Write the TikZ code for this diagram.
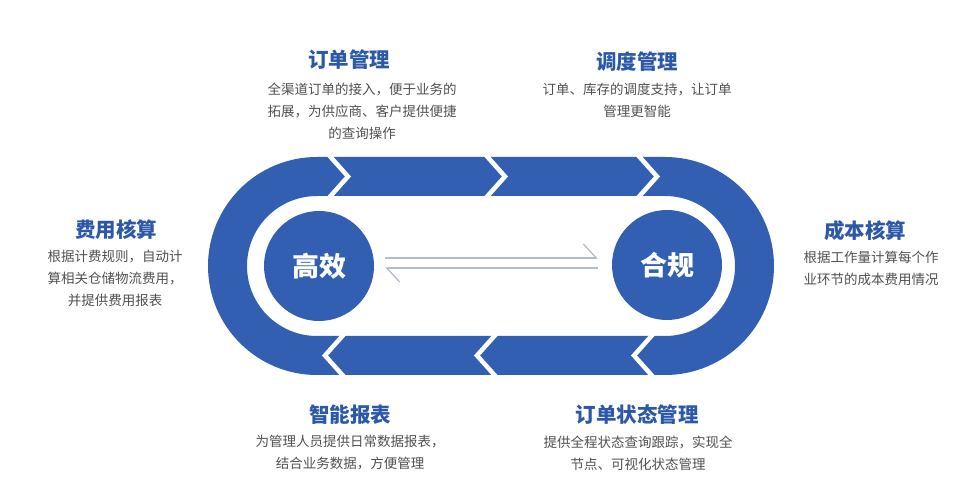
\documentclass[tikz,border=0pt]{standalone}
\usepackage{fontspec}
\setmainfont{Noto Sans CJK SC}
\usepackage{tikz}
\usetikzlibrary{arrows.meta}
\definecolor{trackblue}{RGB}{50,95,178}
\definecolor{headblue}{RGB}{44,88,168}
\definecolor{bodygray}{RGB}{80,80,80}
\definecolor{harpgray}{RGB}{178,188,206}
\tikzset{>=Stealth,
  head/.style={text=headblue,font=\fontsize{20.5}{24}\selectfont\bfseries},
  body/.style={text=bodygray,align=center,font=\fontsize{13.5}{22}\selectfont},
  hub/.style={circle,fill=trackblue,minimum size=110pt,inner sep=0pt,text=white,font=\fontsize{27}{30}\selectfont\bfseries},
  gap/.style={white,line width=4.5pt,line join=miter},
  harp/.style={harpgray,line width=1.3pt,-{Straight Barb[harpoon,length=13pt,width=28pt]}}
}

\begin{document}
\begin{tikzpicture}[x=1pt,y=1pt]
\useasboundingbox (0,0) rectangle (972,498);
% track
\fill[trackblue,even odd rule] (317,341) -- (665,341) arc(90:-90:109) -- (317,123) arc(270:90:109) -- cycle
  (317,302) -- (665,302) arc(90:-90:70) -- (317,162) arc(270:90:70) -- cycle;
\foreach \b in {331,488,640}
  \draw[gap] (\b-4,345) -- (\b+17,321.5) -- (\b-4,298);
\foreach \b in {342,494,651}
  \draw[gap] (\b+4,166) -- (\b-17,142.5) -- (\b+4,119);

\node[hub] (eff) at (319,232) {高效};
\node[hub] (comp) at (667,233) {合规};
\draw[harp] ([shift={(11pt,8pt)}]eff.east) -- ([shift={(-14pt,7pt)}]comp.west);
\draw[harp] ([shift={(-14pt,-3pt)}]comp.west) -- ([shift={(11pt,-2pt)}]eff.east);

\node[head] (ordt) at (349,438) {订单管理};
\node[body] (ordb) at (362,387) {全渠道订单的接入，便于业务的\\拓展，为供应商、客户提供便捷\\的查询操作};
\node[head] (dispt) at (637,436) {调度管理};
\node[body] (dispb) at (637,398) {订单、库存的调度支持，让订单\\管理更智能};
\node[head] (feet) at (116,268) {费用核算};
\node[body] (feeb) at (115,220) {根据计费规则，自动计\\算相关仓储物流费用，\\并提供费用报表};
\node[head] (costt) at (865,267) {成本核算};
\node[body] (costb) at (871,230) {根据工作量计算每个作\\业环节的成本费用情况};
\node[head] (rept) at (350,83) {智能报表};
\node[body] (repb) at (350,45) {为管理人员提供日常数据报表，\\结合业务数据，方便管理};
\node[head] (statt) at (637,83) {订单状态管理};
\node[body] (statb) at (638,45) {提供全程状态查询跟踪，实现全\\节点、可视化状态管理};
\end{tikzpicture}
\end{document}
